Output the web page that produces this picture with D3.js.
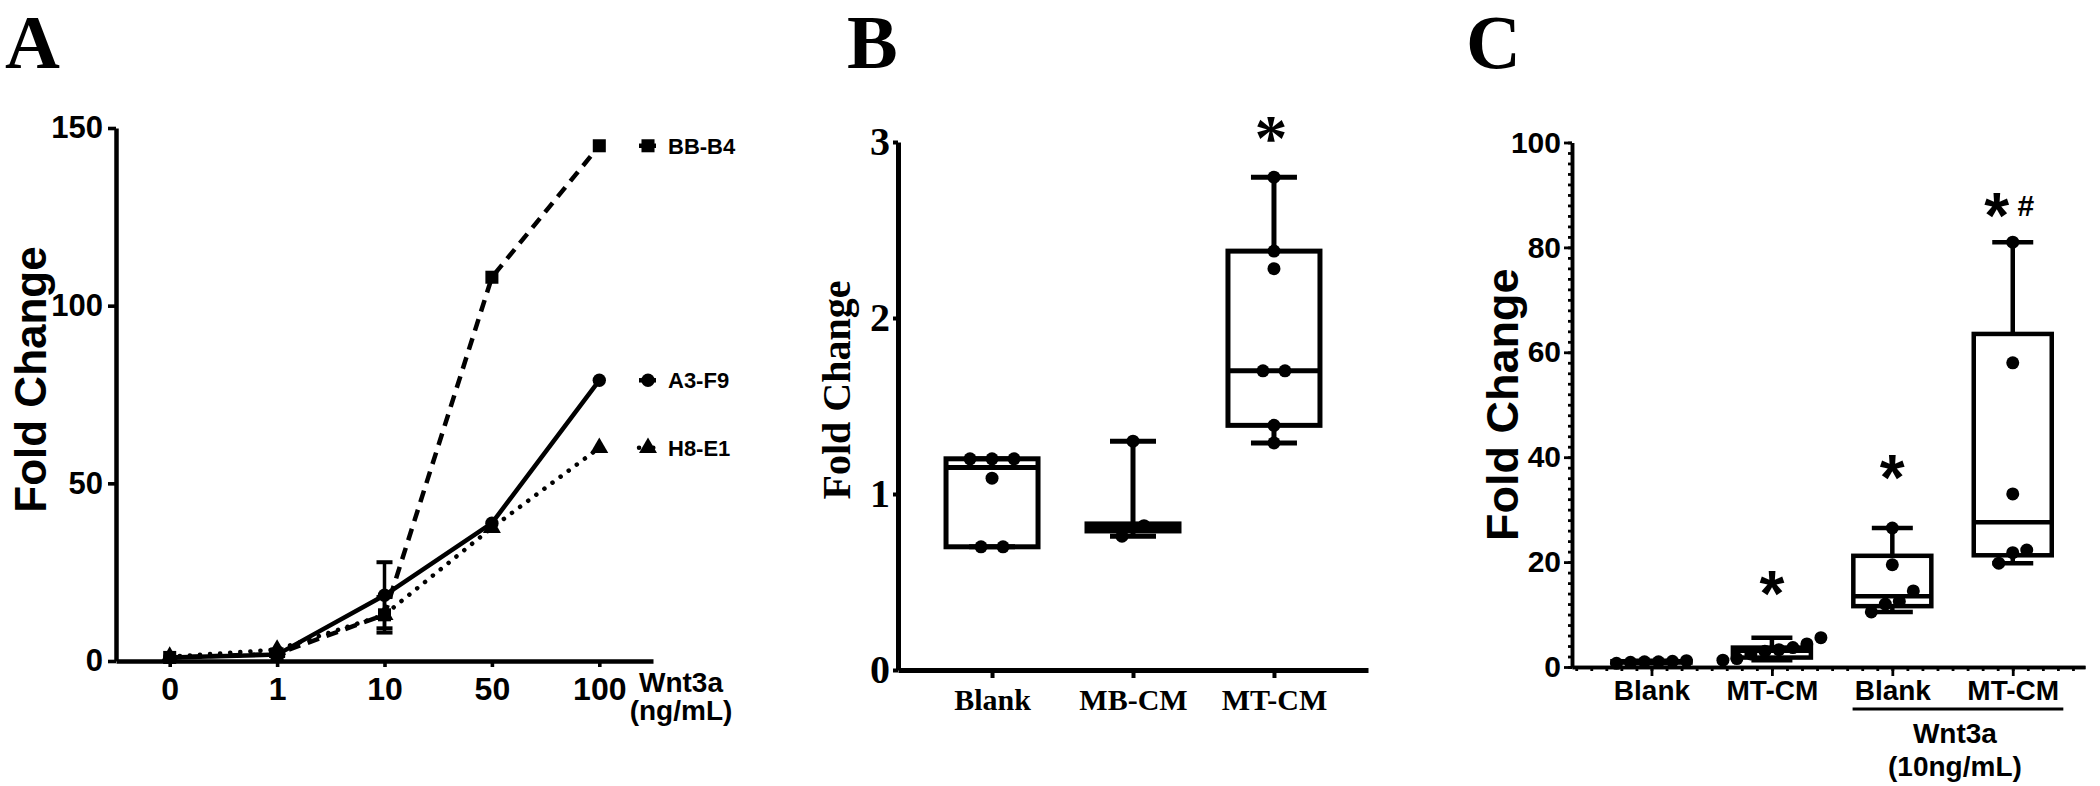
<!DOCTYPE html>
<html>
<head>
<meta charset="utf-8">
<script src="https://cdn.jsdelivr.net/npm/d3@7"></script>
<style>
  body { margin: 0; background: #fff; }
  svg { display: block; }
</style>
</head>
<body>
<script>
// ---- panel A : dose response of three clones
const doses = ["0", "1", "10", "50", "100"];
const bbB4 = [1, 2, 13, 108, 145];
const bbB4Err = [0, 0.3, 5, 0, 0];
const a3F9 = [1, 1.8, 18.5, 38.8, 79];
const a3F9Err = [0, 0.4, 9.3, 0, 0];
const h8E1 = [1.2, 3.2, 13, 37.5, 60];
const h8E1Err = [0, 0, 0, 0, 0];
const ticksA = [0, 50, 100, 150];

// ---- panel B
const groupsB = ["Blank", "MB-CM", "MT-CM"];
const pointsB = [
  [1.2, 1.2, 1.2, 1.09, 0.7, 0.7],
  [1.3, 0.82, 0.76],
  [2.8, 2.38, 2.28, 1.7, 1.7, 1.39, 1.29]
];
// min, q1, median, q3, max
const boxB = [
  [0.7, 0.7, 1.15, 1.2, 1.2],
  [0.76, 0.79, 0.81, 0.83, 1.3],
  [1.29, 1.39, 1.7, 2.38, 2.8]
];
const marksB = ["", "", "*"];
const marksBY = [null, null, 3.1];
const ticksB = [0, 1, 2, 3];

// ---- panel C
const groupsC = ["Blank", "MT-CM", "Blank", "MT-CM"];
const pointsC = [
  [0.7, 0.9, 1.0, 1.0, 1.1, 1.2],
  [5.6, 4.4, 3.7, 3.3, 3.0, 2.5, 1.6, 1.3],
  [26.5, 19.5, 14.5, 12.5, 12, 10.5],
  [81, 58, 33, 22.3, 21.8, 19.8]
];
const boxC = [
  [0.7, 0.85, 1.0, 1.1, 1.2],
  [1.3, 1.8, 3.1, 3.7, 5.6],
  [10.5, 11.6, 13.5, 21.2, 26.5],
  [19.8, 21.3, 27.6, 63.5, 81]
];
const marksC = ["", "*", "*", "*"];
const marksCY = [null, 17, 39, 89];
const ticksC = [0, 20, 40, 60, 80, 100];

const width = 2100, height = 786;
const sans = "'Liberation Sans', Arial, sans-serif";
const serif = "'Liberation Serif', 'Times New Roman', serif";

const svg = d3.select("body").append("svg")
  .attr("width", width).attr("height", height)
  .attr("viewBox", [0, 0, width, height]);

// panel letters
svg.selectAll("text.letter")
  .data([["A", 5], ["B", 847], ["C", 1466]])
  .join("text")
  .attr("class", "letter")
  .attr("x", d => d[1]).attr("y", 68)
  .attr("font-family", serif).attr("font-weight", "bold")
  .attr("font-size", 76)
  .text(d => d[0]);

function styleAxis(g, font, size, sw) {
  g.attr("font-family", font).attr("font-size", size).attr("font-weight", "bold");
  g.select(".domain").attr("stroke-width", sw).attr("stroke", "#000");
  g.selectAll(".tick line").attr("stroke-width", sw * 0.8).attr("stroke", "#000");
  g.selectAll(".tick text").attr("fill", "#000");
}

// spreads points that overlap in y, like a small beeswarm
function swarm(vals, y, spacing, diam) {
  const idx = vals.map((v, i) => i).sort((a, b) => vals[a] - vals[b]);
  const off = new Array(vals.length).fill(0);
  let cluster = [];
  const flush = () => {
    cluster.forEach((k, j) => off[k] = (j - (cluster.length - 1) / 2) * spacing);
    cluster = [];
  };
  idx.forEach(k => {
    if (cluster.length && Math.abs(y(vals[k]) - y(vals[cluster[cluster.length - 1]])) >= diam) flush();
    cluster.push(k);
  });
  flush();
  return off;
}

function drawBox(g, cx, y, s, boxW, capW, sw) {
  const b = g.append("g").attr("stroke", "#000").attr("stroke-width", sw).attr("fill", "none");
  b.append("line").attr("x1", cx).attr("x2", cx).attr("y1", y(s[0])).attr("y2", y(s[1]));
  b.append("line").attr("x1", cx).attr("x2", cx).attr("y1", y(s[3])).attr("y2", y(s[4]));
  [s[0], s[4]].forEach(v => b.append("line")
    .attr("x1", cx - capW / 2).attr("x2", cx + capW / 2).attr("y1", y(v)).attr("y2", y(v)));
  b.append("rect").attr("x", cx - boxW / 2).attr("width", boxW)
    .attr("y", y(s[3])).attr("height", Math.max(0, y(s[1]) - y(s[3])));
  b.append("line").attr("x1", cx - boxW / 2).attr("x2", cx + boxW / 2)
    .attr("y1", y(s[2])).attr("y2", y(s[2]));
}

// ================= Panel A =================
const xA = d3.scalePoint().domain(doses).range([116, 653]).padding(0.5);
const yA = d3.scaleLinear().domain([0, 150]).range([661, 128]);

const gA = svg.append("g");
gA.append("g").attr("transform", `translate(0,${yA(0)})`)
  .call(d3.axisBottom(xA).tickSize(6).tickPadding(10).tickSizeOuter(0))
  .call(g => styleAxis(g, sans, 32, 4.5));
gA.append("g").attr("transform", `translate(${xA.range()[0]},0)`)
  .call(d3.axisLeft(yA).tickValues(ticksA).tickSize(8).tickPadding(5).tickSizeOuter(0))
  .call(g => styleAxis(g, sans, 31, 4.5));

gA.append("text")
  .attr("transform", `translate(46,${(yA(0) + yA(150)) / 2 - 15}) rotate(-90)`)
  .attr("text-anchor", "middle")
  .attr("font-family", sans).attr("font-weight", "bold").attr("font-size", 44)
  .text("Fold Change");

gA.append("text").attr("text-anchor", "middle")
  .attr("font-family", sans).attr("font-weight", "bold").attr("font-size", 28)
  .selectAll("tspan").data(["Wnt3a", "(ng/mL)"]).join("tspan")
  .attr("x", 681).attr("y", (d, i) => 692 + i * 28).text(d => d);

const seriesA = [
  {name: "BB-B4", values: bbB4, err: bbB4Err, dash: "12,8", sym: d3.symbolSquare, size: 170},
  {name: "A3-F9", values: a3F9, err: a3F9Err, dash: null, sym: d3.symbolCircle, size: 140},
  {name: "H8-E1", values: h8E1, err: h8E1Err, dash: "0.1,10", sym: d3.symbolTriangle, size: 140}
];

const lineA = d3.line().x((d, i) => xA(doses[i])).y(d => yA(d));
const xEnd = xA.range()[1];

seriesA.forEach(s => {
  const g = gA.append("g");
  const dotted = s.dash === "0.1,10";
  // error bars
  s.values.forEach((v, i) => {
    if (!s.err[i]) return;
    const x = xA(doses[i]);
    g.append("line").attr("x1", x).attr("x2", x)
      .attr("y1", yA(v - s.err[i])).attr("y2", yA(v + s.err[i]))
      .attr("stroke", "#000").attr("stroke-width", 3.5);
    [v - s.err[i], v + s.err[i]].forEach(e => g.append("line")
      .attr("x1", x - 8).attr("x2", x + 8).attr("y1", yA(e)).attr("y2", yA(e))
      .attr("stroke", "#000").attr("stroke-width", 4));
  });
  g.append("path").datum(s.values)
    .attr("d", lineA).attr("fill", "none").attr("stroke", "#000")
    .attr("stroke-width", 4.5).attr("stroke-linecap", dotted ? "round" : "butt")
    .attr("stroke-dasharray", s.dash);
  g.selectAll("path.m").data(s.values).join("path").attr("class", "m")
    .attr("transform", (d, i) => `translate(${xA(doses[i])},${yA(d)})`)
    .attr("d", d3.symbol(s.sym, s.size)).attr("fill", "#000");

  // legend at the level of the last point
  const ly = yA(s.values[s.values.length - 1]);
  g.append("line").attr("x1", xEnd - 14).attr("x2", xEnd + 3).attr("y1", ly).attr("y2", ly)
    .attr("stroke", "#000").attr("stroke-width", 4.5)
    .attr("stroke-linecap", dotted ? "round" : "butt")
    .attr("stroke-dasharray", dotted ? "0.1,7" : null);
  g.append("path").attr("transform", `translate(${xEnd - 5},${ly})`)
    .attr("d", d3.symbol(s.sym, s.size)).attr("fill", "#000");
  g.append("text").attr("x", xEnd + 15).attr("y", ly).attr("dy", "0.36em")
    .attr("font-family", sans).attr("font-weight", "bold").attr("font-size", 22)
    .text(s.name);
});

// ================= Panel B =================
const xB = d3.scalePoint().domain(groupsB).range([898, 1368]).padding(0.667);
const yB = d3.scaleLinear().domain([0, 3]).range([670, 142]);

const gB = svg.append("g");
gB.append("g").attr("transform", `translate(0,${yB(0)})`)
  .call(d3.axisBottom(xB).tickSize(8).tickPadding(11).tickSizeOuter(0))
  .call(g => styleAxis(g, serif, 30, 5));
gB.append("g").attr("transform", `translate(${xB.range()[0]},0)`)
  .call(d3.axisLeft(yB).tickValues(ticksB).tickFormat(d3.format("d"))
    .tickSize(5).tickPadding(3).tickSizeOuter(0))
  .call(g => styleAxis(g, serif, 40, 5));

gB.append("text")
  .attr("transform", `translate(850,${(yB(0) + yB(3)) / 2 - 16}) rotate(-90)`)
  .attr("text-anchor", "middle")
  .attr("font-family", serif).attr("font-weight", "bold").attr("font-size", 40)
  .text("Fold Change");

groupsB.forEach((grp, i) => {
  const cx = xB(grp);
  drawBox(gB, cx, yB, boxB[i], 92, 46, 5);
  const off = swarm(pointsB[i], yB, 22, 13);
  gB.append("g").selectAll("circle").data(pointsB[i]).join("circle")
    .attr("cx", (d, j) => cx + off[j]).attr("cy", d => yB(d)).attr("r", 6.5)
    .attr("fill", "#000");
  if (marksB[i]) {
    gB.append("text").attr("x", cx - 3).attr("y", yB(marksBY[i]) + 36)
      .attr("text-anchor", "middle")
      .attr("font-family", serif).attr("font-weight", "bold").attr("font-size", 66)
      .text(marksB[i]);
  }
});

// ================= Panel C =================
const xC = d3.scaleLinear().domain([-0.66, 3.6]).range([1572, 2085]);
const yC = d3.scaleLinear().domain([0, 100]).range([667, 142.5]);

const gC = svg.append("g");
// minor ticks
gC.append("g").attr("transform", `translate(0,${yC(0)})`)
  .call(d3.axisBottom(xC).tickValues(d3.range(-0.625, 3.6, 0.125)).tickSize(4).tickFormat("").tickSizeOuter(0))
  .call(g => styleAxis(g, sans, 28, 3.5));
gC.append("g").attr("transform", `translate(${xC(-0.66)},0)`)
  .call(d3.axisLeft(yC).tickValues(d3.range(0, 101, 2)).tickSize(4).tickFormat("").tickSizeOuter(0))
  .call(g => styleAxis(g, sans, 30, 3.5));
// major ticks
gC.append("g").attr("transform", `translate(0,${yC(0)})`)
  .call(d3.axisBottom(xC).tickValues(d3.range(groupsC.length)).tickSize(9).tickPadding(4)
    .tickFormat(i => groupsC[i]).tickSizeOuter(0))
  .call(g => styleAxis(g, sans, 28, 3.5));
gC.append("g").attr("transform", `translate(${xC(-0.66)},0)`)
  .call(d3.axisLeft(yC).tickValues(ticksC).tickSize(8).tickPadding(3).tickSizeOuter(0))
  .call(g => styleAxis(g, sans, 30, 3.5));

gC.append("text")
  .attr("transform", `translate(1518,${(yC(0) + yC(100)) / 2}) rotate(-90)`)
  .attr("text-anchor", "middle")
  .attr("font-family", sans).attr("font-weight", "bold").attr("font-size", 45)
  .text("Fold Change");

// Wnt3a bracket under the last two groups
gC.append("line").attr("x1", xC(1.67)).attr("x2", xC(3.42)).attr("y1", 709).attr("y2", 709)
  .attr("stroke", "#000").attr("stroke-width", 3);
gC.append("text").attr("text-anchor", "middle")
  .attr("font-family", sans).attr("font-weight", "bold").attr("font-size", 28)
  .selectAll("tspan").data(["Wnt3a", "(10ng/mL)"]).join("tspan")
  .attr("x", xC(2.52)).attr("y", (d, i) => 743 + i * 33).text(d => d);

groupsC.forEach((grp, i) => {
  const cx = xC(i);
  drawBox(gC, cx, yC, boxC[i], 78, 41, 4.5);
  const off = swarm(pointsC[i], yC, 14, 13);
  gC.append("g").selectAll("circle").data(pointsC[i]).join("circle")
    .attr("cx", (d, j) => cx + off[j]).attr("cy", d => yC(d)).attr("r", 6.5)
    .attr("fill", "#000");
  if (marksC[i]) {
    gC.append("text").attr("x", cx - (i === 3 ? 16 : 0)).attr("y", yC(marksCY[i]) + 38)
      .attr("text-anchor", "middle")
      .attr("font-family", sans).attr("font-weight", "bold").attr("font-size", 64)
      .text(marksC[i]);
  }
});
// hash sign next to the last star
gC.append("text").attr("x", xC(3) + 13).attr("y", yC(marksCY[3]) + 16)
  .attr("text-anchor", "middle")
  .attr("font-family", sans).attr("font-weight", "bold").attr("font-size", 30)
  .text("#");
</script>
</body>
</html>
